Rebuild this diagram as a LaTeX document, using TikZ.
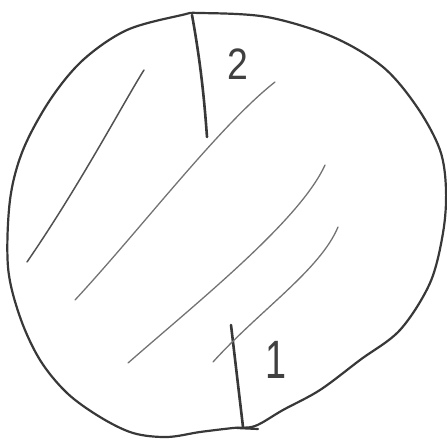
\documentclass[tikz,border=0pt]{standalone}
\usepackage{fontspec}
\setsansfont{Liberation Sans}
\begin{document}
\begin{tikzpicture}[x=1pt,y=-1pt,
  outline/.style={draw=black!78,line width=2.2pt,line cap=round,line join=round},
  cutline/.style={draw=black!78,line width=2.6pt,line cap=round},
  hatchdark/.style={draw=black!68,line width=1.5pt,line cap=round},
  hatchlight/.style={draw=black!55,line width=1.3pt,line cap=round},
  lbl/.style={text=black!75,inner sep=0pt,font=\sffamily\fontsize{44}{44}\selectfont\addfontfeature{FakeStretch=0.85}}]
\useasboundingbox (0,0) rectangle (447,441);
% outline
\draw[outline] plot[smooth cycle,tension=0.55] coordinates{
 (182,15) (200,13) (267,17) (333,37) (383,67) (417,107) (440,150) (446,190)
 (443,233) (430,283) (400,330) (360,360) (320,390) (283,410) (255,426)
 (233,428) (200,432) (167,437) (133,433) (100,417) (67,393) (40,360)
 (20,317) (8,267) (10,200) (23,150) (50,100) (83,60) (127,30)};
% cuts
\coordinate (c2a) at (192,15); \coordinate (c2b) at (207,137);
\coordinate (c1a) at (231,325); \coordinate (c1b) at (243,427);
\draw[cutline] (c2a) .. controls (202,70) and (205,110) .. (c2b);
\draw[cutline] (c1a) -- (c1b);
\draw[outline] (237,428) -- (258,429);
% hatching
\coordinate (h1a) at (144,70); \coordinate (h1b) at (27,262);
\coordinate (h2a) at (275,82); \coordinate (h2b) at (75,300);
\coordinate (h3a) at (325,165); \coordinate (h3b) at (128,363);
\coordinate (h4a) at (338,227); \coordinate (h4b) at (213,362);
\draw[hatchdark] (h1a) .. controls (125,100) and (80,185) .. (h1b);
\draw[hatchlight] (h2a) .. controls (220,125) and (140,230) .. (h2b);
\draw[hatchlight] (h3a) .. controls (300,220) and (200,300) .. (h3b);
\draw[hatchlight] (h4a) .. controls (320,270) and (260,310) .. (h4b);
% labels
\node[lbl] (two) at (238,64) {2};
\node[lbl,font=\sffamily\fontsize{54}{54}\selectfont\addfontfeature{FakeStretch=0.7}] (one) at (276,360) {1};
\end{tikzpicture}
\end{document}
